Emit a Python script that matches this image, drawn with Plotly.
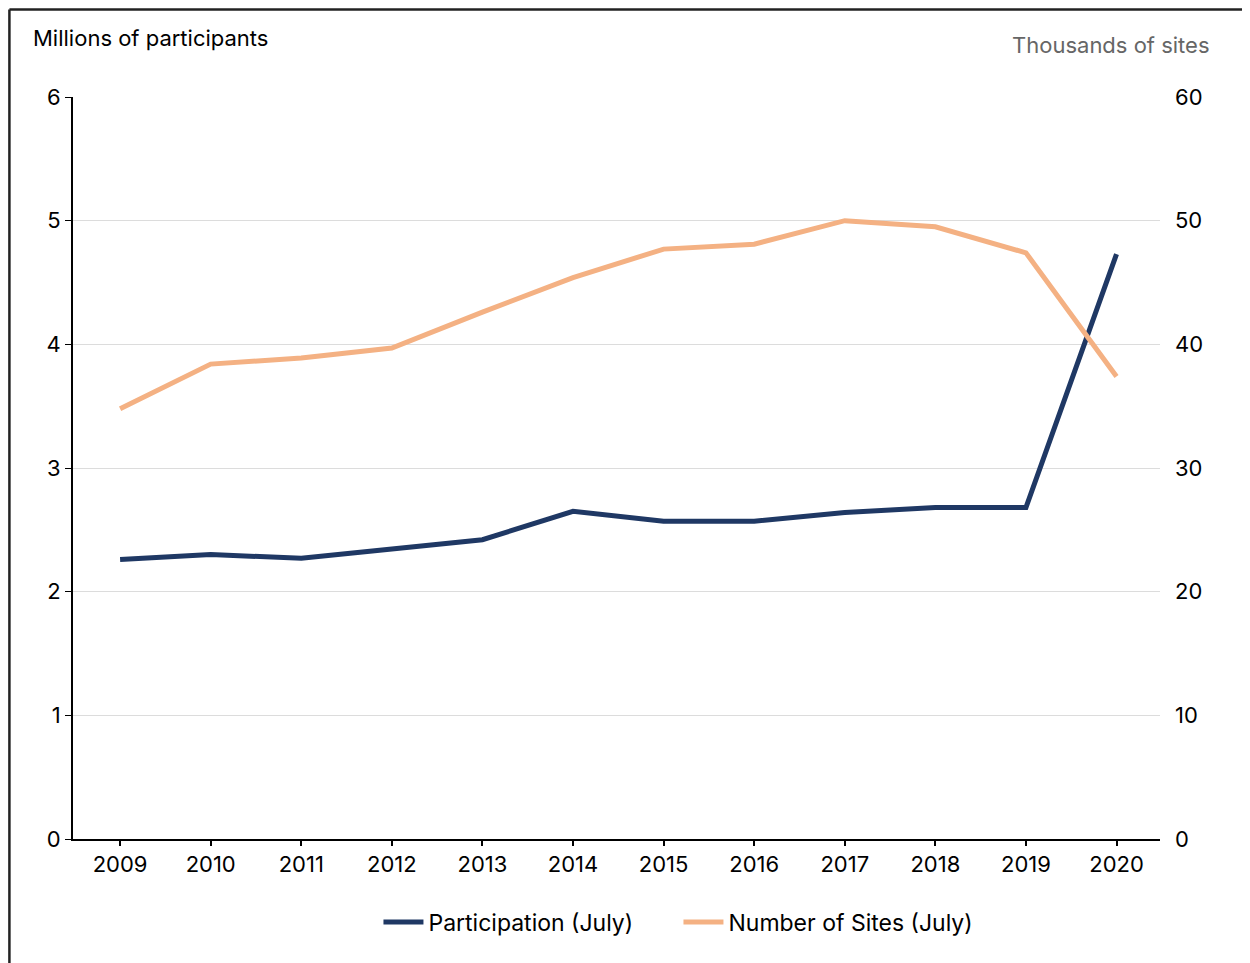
import plotly.graph_objects as go

years = [2009, 2010, 2011, 2012, 2013, 2014, 2015, 2016, 2017, 2018, 2019, 2020]
participation = [2.26, 2.30, 2.27, 2.35, 2.42, 2.65, 2.57, 2.57, 2.64, 2.68, 2.68, 4.73]
sites = [34.8, 38.4, 38.9, 39.7, 42.6, 45.4, 47.7, 48.1, 50.0, 49.5, 47.4, 37.4]
left_ticks = [0, 1, 2, 3, 4, 5, 6]
right_ticks = [0, 10, 20, 30, 40, 50, 60]

navy = "#1f3864"
peach = "#f4b183"
FONT = "Inter"

fig = go.Figure()
fig.add_trace(go.Scatter(x=years, y=participation, mode="lines", name="Participation (July)",
                         line=dict(color=navy, width=5), yaxis="y"))
fig.add_trace(go.Scatter(x=years, y=sites, mode="lines", name="Number of Sites (July)",
                         line=dict(color=peach, width=5), yaxis="y2"))

fig.update_layout(
    width=1250, height=963,
    margin=dict(l=65, r=98, t=89, b=132),
    paper_bgcolor="white", plot_bgcolor="white",
    font=dict(family=FONT, size=22, color="#000"),
    xaxis=dict(range=[2008.48, 2020.48], tickvals=years, ticktext=[str(y) for y in years],
               showgrid=False, showline=True, linecolor="#000", linewidth=2,
               ticks="outside", ticklen=5, tickwidth=1.5, tickcolor="#000",
               tickfont=dict(size=22), zeroline=False),
    yaxis=dict(range=[0, 6], tickvals=left_ticks, showgrid=True, gridcolor="#dcdcdc", gridwidth=1,
               showline=True, linecolor="#000", linewidth=2, ticks="outside", ticklen=6,
               tickcolor="#000", tickfont=dict(size=22), zeroline=False),
    yaxis2=dict(range=[0, 60], tickvals=right_ticks, overlaying="y", side="right",
                showgrid=False, showline=False, ticks="", tickfont=dict(size=22),
                zeroline=False, ticklabelstandoff=14),
    legend=dict(orientation="h", x=0.557, xanchor="center", y=-0.083, yanchor="top",
                font=dict(size=23), itemwidth=40, traceorder="normal",
                entrywidth=245, entrywidthmode="pixels"),
    showlegend=True,
)

fig.add_annotation(text="Millions of participants", xref="paper", yref="paper",
                   x=-0.0384, y=1.079, xanchor="left", yanchor="middle", showarrow=False,
                   font=dict(size=22, color="#000"))
fig.add_annotation(text="Thousands of sites", xref="paper", yref="paper",
                   x=1.048, y=1.07, xanchor="right", yanchor="middle", showarrow=False,
                   font=dict(size=22, color="#666"))

# frame
fig.add_shape(type="line", xref="paper", yref="paper", x0=-0.0585, x1=1.1, y0=1.118, y1=1.118,
              line=dict(color="#222", width=2.5))
fig.add_shape(type="line", xref="paper", yref="paper", x0=-0.0585, x1=-0.0585, y0=1.118, y1=-0.2,
              line=dict(color="#222", width=2.5))

fig.write_html("out.html")
